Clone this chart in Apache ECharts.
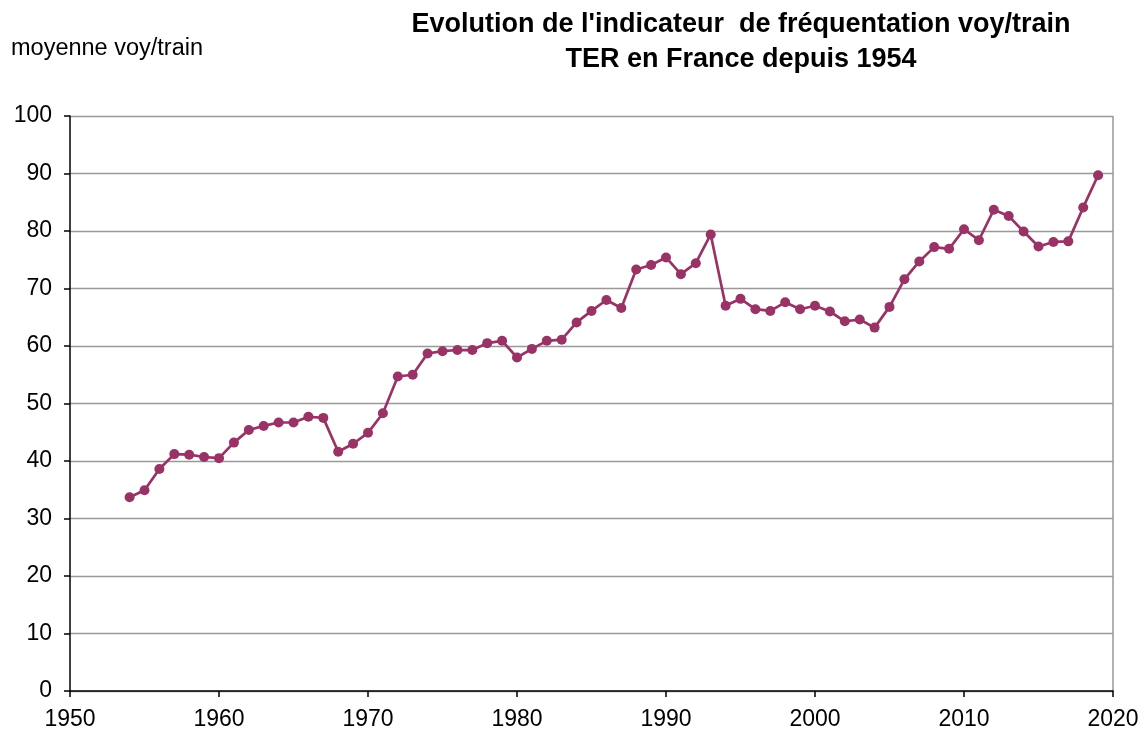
<!DOCTYPE html>
<html><head><meta charset="utf-8">
<script src="https://cdn.jsdelivr.net/npm/echarts@6/dist/echarts.min.js"></script>
<style>html,body{margin:0;padding:0;background:#fff}#c{width:1146px;height:732px}</style>
</head><body><div id="c"></div>
<script>
const years = [1954,1955,1956,1957,1958,1959,1960,1961,1962,1963,1964,1965,1966,1967,1968,1969,
1970,1971,1972,1973,1974,1975,1976,1977,1978,1979,1980,1981,1982,1983,1984,1985,1986,1987,1988,1989,
1990,1991,1992,1993,1994,1995,1996,1997,1998,1999,2000,2001,2002,2003,2004,2005,2006,2007,2008,2009,
2010,2011,2012,2013,2014,2015,2016,2017,2018,2019];
const values = [33.7,34.9,38.6,41.2,41.1,40.7,40.5,43.2,45.4,46.1,46.7,46.7,47.7,47.5,41.6,43.0,
44.9,48.3,54.7,55.0,58.7,59.1,59.3,59.3,60.5,60.9,58.0,59.5,60.9,61.1,64.1,66.1,68.0,66.6,73.3,74.1,
75.4,72.5,74.4,79.4,67.0,68.2,66.4,66.1,67.6,66.4,67.0,66.0,64.3,64.6,63.2,66.8,71.6,74.7,77.2,76.9,
80.3,78.4,83.7,82.6,79.9,77.3,78.1,78.2,84.1,89.7];
const xTicks = [1950,1960,1970,1980,1990,2000,2010,2020];
const yTicks = [0,10,20,30,40,50,60,70,80,90,100];
const titleLines = ["Evolution de l'indicateur  de fréquentation voy/train","TER en France depuis 1954"];
const yName = "moyenne voy/train";

const chart = echarts.init(document.getElementById('c'));
const F = 'Liberation Sans, Arial, sans-serif';
chart.setOption({
  animation:false,
  backgroundColor:'#fff',
  title:{text:titleLines.join('\n'),left:736,top:2,textAlign:'center',
    textStyle:{fontFamily:F,fontWeight:'bold',fontSize:27,color:'#000',lineHeight:35}},
  graphic:[{type:'text',left:11,top:37,style:{text:yName,font:'23.5px '+F,fill:'#000'}},
    {type:'line',shape:{x1:1113,y1:116,x2:1113,y2:691},style:{stroke:'#999',lineWidth:1.5}}],
  grid:{left:70,right:33,top:116,bottom:41,containLabel:false},
  xAxis:{type:'value',min:xTicks[0],max:xTicks[xTicks.length-1],interval:10,
    axisLine:{show:true,onZero:false,lineStyle:{color:'#000',width:1.5}},
    axisTick:{show:true,length:6,lineStyle:{color:'#000',width:1.5}},
    axisLabel:{fontFamily:F,fontSize:23,color:'#000',margin:17,formatter:v=>String(v)},
    splitLine:{show:false}},
  yAxis:{type:'value',min:yTicks[0],max:yTicks[yTicks.length-1],interval:10,
    axisLine:{show:true,lineStyle:{color:'#000',width:1.5}},
    axisTick:{show:true,length:6,lineStyle:{color:'#000',width:1.5}},
    axisLabel:{fontFamily:F,fontSize:23,color:'#000',margin:18},
    splitLine:{show:true,lineStyle:{color:'#999',width:1.3}}},
  series:[{type:'line',data:years.map((y,i)=>[y,values[i]]),
    symbol:'circle',symbolSize:10,
    lineStyle:{color:'#993366',width:2.7},
    itemStyle:{color:'#993366'}}]
});
</script></body></html>
